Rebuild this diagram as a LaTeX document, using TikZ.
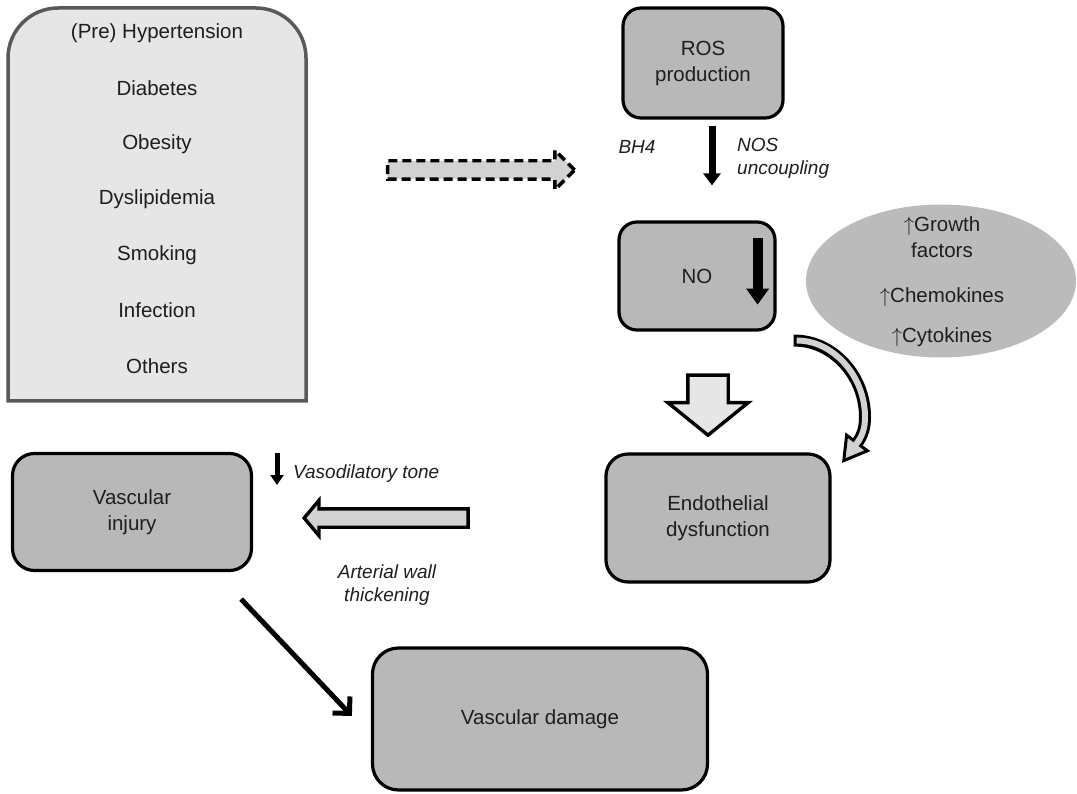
\documentclass[tikz,border=0pt]{standalone}
\usepackage{fontspec}
\setmainfont{Liberation Sans}
\usepackage{tikz}
\usetikzlibrary{arrows.meta,positioning,shapes.geometric,shapes.arrows,calc}
\definecolor{boxgray}{HTML}{B8B8B8}
\definecolor{ellgray}{HTML}{BBBBBB}
\definecolor{riskgray}{HTML}{E6E6E6}
\definecolor{riskedge}{HTML}{595959}
\definecolor{arrgray}{HTML}{D2D2D2}
\definecolor{inkgray}{HTML}{1E1E1E}
\tikzset{
  txt/.style   = {font=\fontsize{20.5}{26}\selectfont, text=inkgray, align=center,
                  inner sep=0pt},
  lbl/.style   = {txt, font=\fontsize{19}{23}\selectfont\itshape},
  stage/.style = {rectangle, rounded corners=18pt, draw=black, line width=3.2pt,
                  fill=boxgray, txt},
  blk/.style   = {single arrow, draw=black, line width=3.4pt, fill=arrgray,
                  inner xsep=0pt, minimum width=0pt},
  fl/.style    = {draw=black, -{Triangle[width=17pt,length=12pt]}},
}

\begin{document}
\begin{tikzpicture}[x=1pt, y=-1pt]
    \useasboundingbox (0,0) rectangle (1077,794);
    % risk factors
    \draw[draw=riskedge, line width=3.5pt, fill=riskgray] (8,401) -- (8,58)
          .. controls (8,30.4) and (30.4,8) .. (58,8) -- (256,8)
          .. controls (283.6,8) and (306,30.4) .. (306,58) -- (306,401) -- cycle;
    \foreach \t [count=\i from 0] in {{(Pre) Hypertension},Diabetes,Obesity,Dyslipidemia,Smoking,Infection,Others}
      \node[txt] (risk\i) at (157,33+55.5*\i) {\t};
    \node[blk, dash pattern=on 9pt off 5pt, minimum height=187pt, inner ysep=7.5pt,
          single arrow head extend=10.5pt] (cause) at (476.5,170) {};

    % ROS -> NO
    \node[stage, minimum width=160pt, minimum height=110pt] (ros) at (703,63) {ROS\\production};
    \node[stage, minimum width=156pt, minimum height=108pt] (no) at (697,276) {NO};
    \draw[fl, line width=7pt] ([xshift=9pt,yshift=-6pt]ros.south) -- ([xshift=15pt,yshift=35pt]no.north);
    \node[lbl] (bh4) at (637,147) {BH4};
    \node[lbl, align=left, anchor=west] (nos) at (737,158) {NOS\\uncoupling};
    \draw[line width=10pt, -{Triangle[width=22pt,length=16pt]}]
          ([xshift=-19pt,yshift=-18pt]no.north east) -- ([xshift=-19pt,yshift=27pt]no.south east);

    % mediators
    \node[ellipse, fill=ellgray, minimum width=270pt, minimum height=153pt] (ell) at (941,281) {};
    \node[txt] (med) at (942,282) {$\uparrow$Growth\\factors\\[19pt]$\uparrow$Chemokines\\[14pt]$\uparrow$Cytokines};

    % NO -> endothelial dysfunction
    \node[blk, fill=riskgray, rotate=-90, minimum height=60pt, inner ysep=18.5pt,
          single arrow head extend=20pt, single arrow tip angle=102] (down) at (708,397) {};
    \node[stage, minimum width=224pt, minimum height=128pt, rounded corners=22pt] (endo) at (718,518) {Endothelial\\dysfunction};
    \coordinate (fbA) at ($(no.south east)+(17,9)$);
    \coordinate (fbB) at (857,443);
    \draw[line width=12pt] (fbA) .. controls (832,340) and (865,375) .. (865,417)
          .. controls (865,427) and (863,435) .. (fbB);
    \draw[arrgray, line width=6pt, shorten <=3pt] (fbA) .. controls (832,340) and (865,375) .. (865,417)
          .. controls (865,427) and (863,435) .. (fbB);
    \filldraw[fill=arrgray, draw=black, line width=3pt, line join=miter]
          (867.4,450.8) -- (843.8,460.6) -- (846.6,435.2) -- cycle;
    \draw[arrgray, line width=6pt] (860,439) -- (854.6,446.2);

    % endothelial dysfunction -> vascular injury -> damage
    \node[stage, minimum width=239pt, minimum height=117pt, rounded corners=22pt] (inj) at (132,512) {Vascular\\injury};
    \node[blk, rotate=180, minimum height=164pt, inner ysep=7.5pt,
          single arrow head extend=8.5pt, single arrow tip angle=100] (toinj) at (390,518) {};
    \node[lbl, anchor=west] (vaso) at (293,474) {Vasodilatory tone};
    \draw[line width=5pt, -{Triangle[width=13pt,length=10pt]}]
          ([xshift=-16pt,yshift=21pt]vaso.west) -- ([xshift=-16pt,yshift=-11pt]vaso.west);
    \node[lbl] (wall) at (387,585) {Arterial wall\\thickening};
    \node[stage, minimum width=335pt, minimum height=142pt, rounded corners=26pt] (dmg) at (540,719) {Vascular damage};
    \draw[line width=5pt, -{Straight Barb[length=12pt,width=24pt]}]
          ($(inj.south east)+(-12,27)$) -- ($(dmg.west)+(-19,-3)$);
  \end{tikzpicture}
\end{document}
